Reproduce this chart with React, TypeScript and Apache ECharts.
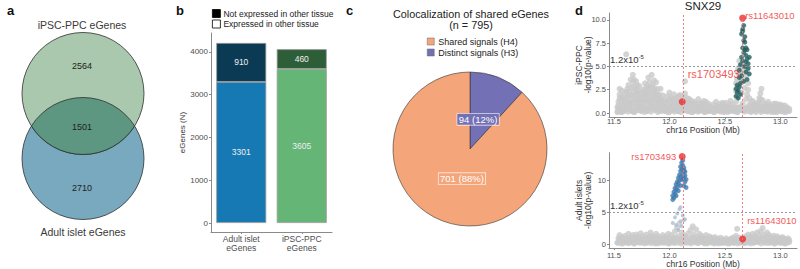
import React, { useEffect, useRef } from "react";
import * as echarts from "echarts";

// ---------- data ----------
const vennSetNames = ["iPSC-PPC eGenes", "Adult islet eGenes"];
const vennCounts = [2564, 1501, 2710]; // iPSC-only, shared, adult-only

const barCategories = ["Adult islet\neGenes", "iPSC-PPC\neGenes"];
const barSeriesNames = ["Not expressed in other tissue", "Expressed in other tissue"];
const expressedValues = [3301, 3605];
const notExpressedValues = [910, 460];
const barTicks = [0, 1000, 2000, 3000, 4000];

const pieTitle = ["Colocalization of shared eGenes", "(n = 795)"];
const pieNames = ["Distinct signals (H3)", "Shared signals (H4)"];
const pieValues = [94, 701];

const geneName = "SNX29";
const xTicks = [11.5, 12.0, 12.5, 13.0];
const ippcTicks = [0, 2.5, 5, 7.5, 10];
const isletTicks = [0, 5, 10];
const thresholdValue = 5;
const leadSnps = ["rs1703493", "rs11643010"];
const leadPos = [12.115, 12.66];
const ippcLead = [1.2, 10.2];
const isletLead = [13.8, 0.8];

const ippcGray: number[][] = [
  [11.53,0.1],[11.53,0.6],[11.54,1.2],[11.55,2.6],[11.56,0.3],[11.57,1.8],[11.58,0.9],[11.59,0.2],[11.6,1.5],[11.61,6.3],
  [11.61,2.3],[11.62,0.5],[11.63,3.0],[11.64,1.1],[11.65,3.6],[11.66,2.0],[11.66,0.2],[11.67,4.1],[11.68,2.8],[11.69,1.4],
  [11.7,3.4],[11.7,0.6],[11.71,2.2],[11.72,1.0],[11.73,2.9],[11.74,0.3],[11.75,1.7],[11.76,2.5],[11.77,0.8],[11.78,3.2],
  [11.79,1.3],[11.8,2.0],[11.8,0.2],[11.81,3.8],[11.82,2.7],[11.83,1.0],[11.84,4.1],[11.85,3.0],[11.86,1.8],[11.86,0.5],
  [11.87,2.4],[11.88,3.3],[11.89,1.2],[11.9,0.3],[11.9,2.0],[11.91,0.9],[11.92,1.5],[11.93,0.4],[11.94,1.9],[11.95,0.7],
  [11.57,0.1],[11.6,0.7],[11.63,1.9],[11.65,0.9],[11.68,0.1],[11.72,1.8],[11.75,0.4],[11.78,2.1],[11.82,0.6],[11.84,1.6],
  [11.88,0.8],[11.92,2.6],[11.55,1.6],[11.69,2.4],[11.74,1.2],[11.8,2.9],[11.86,2.6],[11.9,1.1],
  [11.54,0.8],[11.55,2.0],[11.56,1.3],[11.57,2.4],[11.58,1.6],[11.59,1.0],[11.6,2.1],[11.61,1.2],[11.62,1.7],[11.62,2.6],
  [11.63,0.9],[11.64,2.3],[11.65,1.5],[11.66,2.7],[11.66,1.2],[11.67,3.3],[11.67,1.8],[11.68,1.1],[11.68,3.6],[11.69,2.0],
  [11.7,1.3],[11.7,2.6],[11.71,1.6],[11.71,3.0],[11.72,2.4],[11.73,1.4],[11.73,0.9],[11.74,2.1],[11.75,1.1],[11.76,1.9],
  [11.77,1.5],[11.77,2.3],[11.78,1.2],[11.79,2.0],[11.79,2.7],[11.8,1.4],[11.81,1.8],[11.81,2.5],[11.82,1.3],[11.82,3.3],
  [11.83,2.2],[11.84,2.8],[11.84,0.9],[11.85,1.4],[11.85,2.2],[11.86,3.5],[11.87,1.2],[11.87,1.7],[11.88,2.0],[11.89,2.6],
  [11.89,1.6],[11.9,1.5],[11.91,1.9],[11.92,1.1],[11.93,1.3],[11.94,1.0],[11.95,1.4],
  [11.96,0.2],[11.97,1.1],[11.98,1.8],[11.99,0.5],[12.0,2.2],[12.01,0.9],[12.02,1.5],[12.03,0.3],[12.04,2.0],[12.05,1.2],
  [12.06,0.6],[12.07,1.7],[12.08,0.2],[12.09,1.0],[12.1,1.9],[12.11,0.5],[12.12,1.4],[12.13,0.3],[12.14,3.4],[12.14,2.1],
  [12.15,0.8],[12.16,1.6],[12.17,0.2],[12.18,1.1],[12.19,0.6],[12.2,1.3],[12.0,0.1],[12.05,0.4],[12.1,0.6],[12.17,1.2],
  [11.97,0.6],[11.98,1.3],[12.0,1.4],[12.01,1.7],[12.02,0.8],[12.03,1.2],[12.04,1.5],[12.06,1.4],[12.07,1.1],[12.08,1.6],
  [12.09,1.9],[12.11,1.2],[12.12,0.9],[12.13,1.7],[12.15,1.3],[12.16,1.0],[12.18,1.5],[12.19,0.9],
  [12.21,0.1],[12.22,0.7],[12.23,1.2],[12.24,0.3],[12.25,0.9],[12.26,1.5],[12.27,0.2],[12.28,0.6],[12.29,1.1],[12.3,0.4],
  [12.31,1.3],[12.32,0.1],[12.33,0.8],[12.34,0.4],[12.35,1.0],[12.36,0.2],[12.37,0.6],[12.38,0.3],[12.39,0.9],[12.4,0.1],
  [12.41,0.5],[12.42,1.2],[12.43,0.3],[12.44,0.7],[12.45,0.2],[12.46,1.0],[12.47,0.4],[12.48,0.8],[12.49,0.1],[12.5,0.6],
  [12.51,1.1],[12.52,0.3],[12.53,0.7],[12.54,0.2],[12.55,1.3],[12.56,0.5],[12.57,0.9],[12.58,0.2],
  [12.22,1.0],[12.25,0.5],[12.27,1.0],[12.3,0.8],[12.33,1.2],[12.36,0.7],[12.39,0.5],[12.42,0.8],[12.45,0.6],[12.48,1.1],
  [12.51,0.7],[12.54,0.9],[12.57,0.6],
  [12.59,0.4],[12.6,1.2],[12.6,2.4],[12.61,3.6],[12.61,0.1],[12.62,4.8],[12.62,1.8],[12.63,3.0],[12.63,5.6],[12.64,0.7],
  [12.64,4.2],[12.65,2.2],[12.66,3.4],[12.66,1.0],[12.67,5.0],[12.67,0.3],[12.68,2.7],[12.69,1.5],[12.69,4.0],[12.7,0.6],
  [12.7,2.0],[12.71,3.2],[12.72,0.9],[12.72,1.6],[12.6,3.2],[12.61,4.4],[12.62,3.0],[12.63,4.0],[12.64,5.0],[12.65,3.8],
  [12.65,5.2],[12.66,4.6],[12.68,4.4],[12.7,4.6],[12.71,2.5],[12.6,0.6],[12.62,0.3],
  [12.73,0.2],[12.74,0.8],[12.75,1.3],[12.76,0.4],[12.77,0.9],[12.78,0.1],[12.79,1.1],[12.8,0.5],[12.81,1.6],[12.82,2.1],
  [12.83,2.6],[12.83,0.3],[12.84,1.4],[12.85,0.7],[12.86,1.0],[12.87,0.2],[12.88,0.6],[12.89,1.2],[12.9,0.3],[12.91,0.8],
  [12.92,0.1],[12.93,0.5],[12.94,1.0],[12.95,0.3],[12.96,0.7],[12.97,0.1],[12.98,0.9],[12.99,0.4],[13.0,0.6],[13.01,0.2],
  [13.02,0.8],[13.03,0.3],[13.04,0.5],[13.05,0.1],[13.06,0.6],[13.07,0.3],[13.08,0.2],
  [12.74,1.2],[12.76,0.8],[12.78,0.6],[12.8,1.0],[12.82,0.9],[12.82,1.5],[12.84,0.6],[12.86,0.5],[12.88,0.9],[12.9,0.8],
  [12.92,0.6],[12.94,0.7],[12.96,1.0],[12.98,0.5],[13.0,0.9],[13.02,0.5],[13.04,0.8],[13.06,0.3],
  // lower floor of the cloud
  [11.535,0.2],[11.565,0.1],[11.595,0.3],[11.625,0.15],[11.655,0.25],[11.685,0.1],[11.715,0.3],[11.745,0.2],[11.775,0.1],
  [11.805,0.25],[11.835,0.15],[11.865,0.3],[11.895,0.1],[11.925,0.2],[11.955,0.25],[11.985,0.1],[12.015,0.3],[12.045,0.15],
  [12.075,0.2],[12.105,0.1],[12.135,0.3],[12.165,0.2],[12.195,0.1],[12.225,0.25],[12.255,0.15],[12.285,0.3],[12.315,0.1],
  [12.345,0.2],[12.375,0.25],[12.405,0.1],[12.435,0.3],[12.465,0.15],[12.495,0.2],[12.525,0.1],[12.555,0.25],[12.585,0.2],
  [12.615,0.1],[12.645,0.3],[12.675,0.15],[12.705,0.2],[12.735,0.1],[12.765,0.25],[12.795,0.3],[12.825,0.1],[12.855,0.2],
  [12.885,0.15],[12.915,0.3],[12.945,0.1],[12.975,0.25],[13.005,0.2],[13.035,0.1],[13.065,0.3],
  [11.55,0.55],[11.58,0.7],[11.61,0.5],[11.64,0.6],[11.67,0.75],[11.7,0.5],[11.73,0.65],[11.76,0.5],[11.79,0.6],[11.82,0.8],
  [11.85,0.55],[11.88,0.65],[11.91,0.5],[11.94,0.6],[11.97,0.5],[12.0,0.65],[12.03,0.5],[12.06,0.75],[12.09,0.6],[12.12,0.5],
  [12.15,0.65],[12.18,0.5],[12.21,0.7],[12.24,0.6],[12.27,0.5],[12.3,0.6],[12.33,0.5],[12.36,0.55],[12.39,0.45],[12.42,0.5],
  [12.45,0.4],[12.48,0.45],[12.51,0.4],[12.54,0.5],[12.57,0.45],[12.6,0.55],[12.63,0.5],[12.66,0.45],[12.69,0.5],[12.72,0.6],
  [12.75,0.55],[12.78,0.7],[12.81,0.5],[12.84,0.6],[12.87,0.55],[12.9,0.65],[12.93,0.5],[12.96,0.6],[12.99,0.45],[13.02,0.55],
  [13.05,0.5],[13.08,0.45]
];

const ippcTeal: number[][] = [
  [12.6,1.8],[12.6,2.6],[12.61,2.2],[12.61,3.0],[12.62,2.4],[12.62,1.6],[12.63,3.8],[12.63,4.6],[12.64,5.2],[12.64,2.0],
  [12.65,6.0],[12.65,4.0],[12.66,7.0],[12.66,5.6],[12.66,8.8],[12.67,6.5],[12.67,9.4],[12.67,3.4],[12.68,7.6],[12.68,5.0],
  [12.68,8.2],[12.69,6.2],[12.69,4.4],[12.69,7.0],[12.7,5.8],[12.7,3.6],[12.7,6.8],[12.71,5.3],[12.71,4.8],[12.72,6.0],
  [12.72,4.2],[12.66,9.0],[12.65,8.5],[12.68,6.8],[12.64,3.2],[12.67,7.8],[12.69,5.5],[12.63,2.8]
];

const isletGray: number[][] = [
  [11.53,0.2],[11.54,0.9],[11.55,1.4],[11.56,0.5],[11.57,1.1],[11.58,0.1],[11.59,0.7],[11.6,1.3],[11.61,0.3],[11.62,0.9],
  [11.63,1.6],[11.64,0.2],[11.65,1.0],[11.66,0.5],[11.67,1.4],[11.68,0.1],[11.69,0.8],[11.7,1.5],[11.71,0.4],[11.72,1.1],
  [11.73,0.2],[11.74,1.7],[11.75,0.7],[11.76,1.2],[11.77,0.3],[11.78,0.9],[11.79,1.5],[11.8,0.2],[11.81,1.0],[11.82,0.6],
  [11.83,1.8],[11.84,1.3],[11.85,0.4],[11.86,1.1],[11.87,0.1],[11.88,1.6],[11.89,0.7],[11.9,1.2],[11.91,0.3],[11.92,1.0],
  [11.93,0.5],[11.94,1.4],[11.95,0.2],[11.96,0.8],[11.97,1.2],[11.98,0.4],[11.99,1.6],[12.0,0.1],[12.01,0.9],[12.02,1.4],
  [12.03,0.3],[12.04,1.0],[12.05,2.0],[12.06,0.6],[12.07,2.6],[12.08,1.2],[12.09,3.2],[12.1,0.4],[12.11,1.8],[12.12,0.8],
  [12.13,1.4],[12.14,0.2],[12.15,1.1],[12.16,0.6],[12.17,1.7],[12.18,0.3],[12.19,2.2],[12.2,1.0],[12.21,2.8],[12.22,1.5],
  [12.23,0.4],[12.24,2.3],[12.25,1.1],[12.26,0.2],[12.27,1.6],[12.28,0.8],[12.29,1.3],[12.3,0.3],[12.31,1.0],[12.32,0.6],
  [12.33,1.4],[12.34,0.1],[12.35,0.8],[12.36,1.2],[12.37,0.4],[12.38,1.0],[12.39,0.2],[12.4,0.7],[12.41,1.1],[12.42,0.3],
  [12.43,0.8],[12.44,0.1],[12.45,0.6],[12.46,1.0],[12.47,0.3],[12.48,0.7],[12.49,0.2],[12.5,0.5],[12.51,0.9],[12.52,0.3],
  [12.53,0.6],[12.54,0.1],[12.55,0.8],[12.56,0.4],[12.57,1.0],[12.58,0.2],[12.59,0.7],[12.6,1.3],[12.61,2.4],[12.62,0.4],
  [12.63,1.0],[12.64,0.2],[12.65,0.6],[12.66,0.3],[12.67,0.9],[12.68,0.2],[12.69,1.2],[12.7,0.5],[12.71,1.5],[12.72,0.3],
  [12.73,1.1],[12.74,0.6],[12.75,1.6],[12.76,0.2],[12.77,1.2],[12.78,0.7],[12.79,1.8],[12.8,0.4],[12.81,1.3],[12.82,2.0],
  [12.83,0.9],[12.84,2.5],[12.85,1.5],[12.86,0.3],[12.87,1.1],[12.88,1.8],[12.89,0.6],[12.9,1.4],[12.91,0.2],[12.92,1.0],
  [12.93,0.5],[12.94,1.3],[12.95,0.1],[12.96,0.8],[12.97,1.2],[12.98,0.4],[12.99,1.0],[13.0,0.2],[13.01,0.7],[13.02,1.1],
  [13.03,0.3],[13.04,0.8],[13.05,0.1],[13.06,0.6],[13.07,0.9],[13.08,0.3],
  // lower floor of the cloud
  [11.535,0.2],[11.565,0.1],[11.595,0.3],[11.625,0.15],[11.655,0.25],[11.685,0.1],[11.715,0.3],[11.745,0.2],[11.775,0.1],
  [11.805,0.25],[11.835,0.15],[11.865,0.3],[11.895,0.1],[11.925,0.2],[11.955,0.25],[11.985,0.1],[12.015,0.3],[12.045,0.15],
  [12.075,0.2],[12.105,0.1],[12.135,0.3],[12.165,0.2],[12.195,0.1],[12.225,0.25],[12.255,0.15],[12.285,0.3],[12.315,0.1],
  [12.345,0.2],[12.375,0.25],[12.405,0.1],[12.435,0.3],[12.465,0.15],[12.495,0.2],[12.525,0.1],[12.555,0.25],[12.585,0.2],
  [12.615,0.1],[12.645,0.3],[12.675,0.15],[12.705,0.2],[12.735,0.1],[12.765,0.25],[12.795,0.3],[12.825,0.1],[12.855,0.2],
  [12.885,0.15],[12.915,0.3],[12.945,0.1],[12.975,0.25],[13.005,0.2],[13.035,0.1],[13.065,0.3],
  [11.55,0.7],[11.58,0.9],[11.61,0.6],[11.64,0.8],[11.67,1.0],[11.7,0.7],[11.73,0.9],[11.76,0.6],[11.79,0.8],[11.82,1.1],
  [11.85,0.7],[11.88,0.9],[11.91,0.6],[11.94,0.8],[11.97,0.7],[12.0,0.9],[12.03,0.6],[12.06,1.0],[12.09,0.8],[12.12,0.6],
  [12.15,0.9],[12.18,0.7],[12.21,1.0],[12.24,0.8],[12.27,0.6],[12.3,0.9],[12.33,0.7],[12.36,0.8],[12.39,0.6],[12.42,0.7],
  [12.45,0.5],[12.48,0.6],[12.51,0.5],[12.54,0.6],[12.57,0.7],[12.6,0.8],[12.63,0.6],[12.66,0.5],[12.69,0.7],[12.72,0.9],
  [12.75,0.8],[12.78,1.0],[12.81,0.7],[12.84,0.9],[12.87,0.8],[12.9,1.0],[12.93,0.7],[12.96,0.9],[12.99,0.6],[13.02,0.8],
  [13.05,0.7],[13.08,0.6]
];

const isletLightBlue: number[][] = [
  [12.05,4.2],[12.06,3.0],[12.07,4.8],[12.08,2.2],[12.09,5.5],[12.1,3.6],[12.1,5.8],[12.11,2.8],[12.12,4.5],[12.13,3.8],
  [12.14,3.9],[12.03,3.3]
];

const isletBlue: number[][] = [
  [12.03,7.0],[12.03,7.6],[12.04,8.2],[12.04,7.3],[12.05,8.8],[12.05,7.9],[12.06,9.4],[12.06,8.5],[12.07,9.8],[12.07,9.0],
  [12.08,10.4],[12.08,9.5],[12.09,10.9],[12.09,10.0],[12.1,11.5],[12.1,10.6],[12.1,12.2],[12.11,11.8],[12.11,12.8],[12.11,10.2],
  [12.12,13.2],[12.12,11.0],[12.12,12.4],[12.13,11.6],[12.13,10.5],[12.13,12.0],[12.14,10.8],[12.14,9.8],[12.14,11.4],[12.15,10.2],
  [12.15,8.9],[12.13,9.2],[12.06,7.6],[12.08,8.4],[12.1,9.2],[12.12,10.3]
];

// ---------- styles ----------
const FONT = "Liberation Sans, Arial, Helvetica, sans-serif";
const AX = "#8a8a8a";
const LBL = "#4d4d4d";
const RED = "#ee2b2b";

echarts.graphic.registerShape(
  "vennLens",
  echarts.graphic.extendPath("M31.4 126 A61 61 0 0 1 134.6 126 A61 61 0 0 1 31.4 126 Z", {})
);

function buildOption(): any {
  const thresholdLabel = {
    show: true,
    position: "insideStartTop",
    distance: [1, 1],
    formatter: "{a|1.2x10}{s|-5}",
    rich: {
      a: { fontSize: 9.5, color: "#333", fontFamily: FONT, lineHeight: 11 },
      s: { fontSize: 6, color: "#333", fontFamily: FONT, verticalAlign: "top", lineHeight: 11 },
    },
  };
  const thresholdLine = {
    silent: true,
    symbol: ["none", "none"],
    animation: false,
    data: [{ yAxis: thresholdValue, lineStyle: { color: "#8c8c8c", type: [2, 2], width: 0.9 }, label: thresholdLabel }],
  };
  const redLines = {
    silent: true,
    symbol: ["none", "none"],
    animation: false,
    label: { show: false },
    lineStyle: { color: "#f27070", type: [2, 2], width: 0.9 },
    data: leadPos.map((p) => ({ xAxis: p })),
  };

  const scatterX = (grid: number, margin: number, gap: number) => ({
    type: "value",
    gridIndex: grid,
    min: 11.455,
    max: 13.15,
    axisLine: { onZero: false, lineStyle: { color: AX, width: 1 } },
    axisTick: { show: true, length: 2, customValues: xTicks, lineStyle: { color: AX } },
    axisLabel: {
      customValues: xTicks,
      formatter: (v: number) => v.toFixed(1),
      fontSize: 7.5,
      color: LBL,
      margin,
      fontFamily: FONT,
    },
    splitLine: { show: false },
    name: "chr16 Position (Mb)",
    nameLocation: "middle",
    nameGap: gap,
    nameMoveOverlap: false,
    nameTextStyle: { fontSize: 8.5, color: "#333", fontFamily: FONT },
  });

  return {
    animation: false,
    backgroundColor: "#fff",
    textStyle: { fontFamily: FONT },
    grid: [
      { left: 211, top: 33, width: 121, height: 199, containLabel: false, outerBoundsMode: "none" },
      { left: 609, top: 13, width: 188, height: 104, containLabel: false, outerBoundsMode: "none" },
      { left: 609, top: 152.7, width: 188, height: 95.3, containLabel: false, outerBoundsMode: "none" },
    ],
    legend: [
      {
        orient: "vertical",
        left: 212,
        top: 9,
        padding: 0,
        itemWidth: 8,
        itemHeight: 8,
        itemGap: 1.5,
        selectedMode: false,
        textStyle: { fontSize: 8.5, color: "#222", fontFamily: FONT, padding: [0, 0, 0, -2] },
        data: [
          { name: barSeriesNames[0], icon: "rect", itemStyle: { color: "#000", borderColor: "#000", borderWidth: 0.8 } },
          { name: barSeriesNames[1], icon: "rect", itemStyle: { color: "#fff", borderColor: "#000", borderWidth: 0.8 } },
        ],
      },
      {
        orient: "vertical",
        left: 427,
        top: 37,
        padding: 0,
        itemWidth: 7,
        itemHeight: 7,
        itemGap: 2,
        selectedMode: false,
        textStyle: { fontSize: 9, color: "#222", fontFamily: FONT, padding: [0, 0, 0, -1] },
        data: [
          { name: pieNames[1], icon: "rect", itemStyle: { borderColor: "#666", borderWidth: 0.5 } },
          { name: pieNames[0], icon: "rect", itemStyle: { borderColor: "#666", borderWidth: 0.5 } },
        ],
      },
    ],
    xAxis: [
      {
        type: "category",
        gridIndex: 0,
        data: barCategories,
        boundaryGap: true,
        axisLine: { onZero: false, lineStyle: { color: AX, width: 1 } },
        axisTick: { show: true, length: 2, alignWithLabel: true, lineStyle: { color: AX } },
        axisLabel: {
          fontSize: 8.5,
          lineHeight: 9,
          color: LBL,
          margin: 2,
          fontFamily: FONT,
          interval: 0,
        },
        splitLine: { show: false },
      },
      scatterX(1, 0.5, 8),
      scatterX(2, 3, 11),
    ],
    yAxis: [
      {
        type: "value",
        gridIndex: 0,
        min: -210,
        max: 4444,
        axisLine: { show: true, onZero: false, lineStyle: { color: AX, width: 1 } },
        axisTick: { show: true, length: 2, customValues: barTicks, lineStyle: { color: AX } },
        axisLabel: {
          customValues: barTicks,
          formatter: (v: number) => String(v),
          fontSize: 8,
          color: LBL,
          margin: 3,
          fontFamily: FONT,
        },
        splitLine: { show: false },
        name: "eGenes (N)",
        nameLocation: "middle",
        nameGap: 25,
        nameMoveOverlap: false,
        nameTextStyle: { fontSize: 8, color: "#333", fontFamily: FONT },
      },
      {
        type: "value",
        gridIndex: 1,
        min: -0.43,
        max: 10.75,
        axisLine: { show: true, onZero: false, lineStyle: { color: AX, width: 1 } },
        axisTick: { show: true, length: 2, customValues: ippcTicks, lineStyle: { color: AX } },
        axisLabel: {
          customValues: ippcTicks,
          formatter: (v: number) => v.toFixed(1),
          fontSize: 7.5,
          color: LBL,
          margin: 3,
          fontFamily: FONT,
        },
        splitLine: { show: false },
        name: "iPSC-PPC\n-log10(p-value)",
        nameLocation: "middle",
        nameGap: 16,
        nameMoveOverlap: false,
        nameTextStyle: { fontSize: 8.5, color: "#333", fontFamily: FONT, lineHeight: 9.5 },
      },
      {
        type: "value",
        gridIndex: 2,
        min: -0.63,
        max: 14.4,
        axisLine: { show: true, onZero: false, lineStyle: { color: AX, width: 1 } },
        axisTick: { show: true, length: 2, customValues: isletTicks, lineStyle: { color: AX } },
        axisLabel: { customValues: isletTicks, fontSize: 7.5, color: LBL, margin: 3, fontFamily: FONT },
        splitLine: { show: false },
        name: "Adult islets\n-log10(p-value)",
        nameLocation: "middle",
        nameGap: 16,
        nameMoveOverlap: false,
        nameTextStyle: { fontSize: 8.5, color: "#333", fontFamily: FONT, lineHeight: 9.5 },
      },
    ],
    series: [
      // ---- panel b ----
      {
        name: barSeriesNames[1],
        type: "bar",
        xAxisIndex: 0,
        yAxisIndex: 0,
        stack: "eg",
        barWidth: 50,
        itemStyle: { color: "#fff", borderColor: "#000", borderWidth: 0.8 },
        label: { show: true, position: "inside", color: "#eeeeee", fontSize: 8.5, fontFamily: FONT },
        data: expressedValues.map((v, i) => ({
          value: v,
          itemStyle: { color: ["#1679b3", "#65b576"][i], borderColor: "#9a9a9a", borderWidth: 0.8 },
        })),
      },
      {
        name: barSeriesNames[0],
        type: "bar",
        xAxisIndex: 0,
        yAxisIndex: 0,
        stack: "eg",
        barWidth: 50,
        itemStyle: { color: "#000", borderColor: "#000", borderWidth: 0.8 },
        label: { show: true, position: "inside", color: "#eeeeee", fontSize: 8.5, fontFamily: FONT },
        data: notExpressedValues.map((v, i) => ({
          value: v,
          itemStyle: { color: ["#0b3a55", "#2e5e38"][i], borderColor: "#9a9a9a", borderWidth: 0.8 },
        })),
      },
      // ---- panel c ----
      {
        type: "pie",
        center: [470, 149],
        radius: 77,
        startAngle: 90,
        clockwise: true,
        silent: true,
        itemStyle: { borderColor: "#333", borderWidth: 0.6 },
        label: {
          show: true,
          position: "inside",
          color: "#ffffff",
          fontSize: 9.5,
          fontFamily: FONT,
          borderColor: "#ffffff",
          borderWidth: 0.6,
          padding: [1, 1.5, 0, 1.5],
          formatter: (p: any) => `${p.value} (${Math.round(p.percent)}%)`,
        },
        labelLine: { show: false },
        data: [
          {
            name: pieNames[0],
            value: pieValues[0],
            itemStyle: { color: "#7470b5" },
            label: { backgroundColor: "#7470b5", offset: [-7, 9] },
          },
          {
            name: pieNames[1],
            value: pieValues[1],
            itemStyle: { color: "#f5a57a" },
            label: { backgroundColor: "#f5a57a", offset: [7, -9] },
          },
        ],
      },
      // ---- panel d, top ----
      {
        type: "scatter",
        xAxisIndex: 1,
        yAxisIndex: 1,
        symbolSize: 6,
        silent: true,
        itemStyle: { color: "#c9c9c9" },
        data: ippcGray,
      },
      {
        type: "scatter",
        xAxisIndex: 1,
        yAxisIndex: 1,
        symbolSize: 4.5,
        silent: true,
        itemStyle: { color: "#1f5d5c", borderColor: "#3e7b78", borderWidth: 0.4 },
        data: ippcTeal,
        markLine: redLines,
      },
      {
        type: "scatter",
        xAxisIndex: 1,
        yAxisIndex: 1,
        data: [],
        silent: true,
        markLine: thresholdLine,
      },
      {
        type: "scatter",
        xAxisIndex: 1,
        yAxisIndex: 1,
        symbolSize: 7,
        silent: true,
        itemStyle: { color: RED },
        label: { show: true, color: RED, fontSize: 9.5, fontFamily: FONT, formatter: "{b}" },
        data: [
          { name: leadSnps[0], value: [leadPos[0], ippcLead[0]], label: { position: "right", distance: 2, offset: [0, -28], fontSize: 11 } },
          { name: leadSnps[1], value: [leadPos[1], ippcLead[1]], label: { position: "right", distance: 0, offset: [-1, -3] } },
        ],
      },
      // ---- panel d, bottom ----
      {
        type: "scatter",
        xAxisIndex: 2,
        yAxisIndex: 2,
        symbolSize: 6,
        silent: true,
        itemStyle: { color: "#c9c9c9" },
        data: isletGray,
      },
      {
        type: "scatter",
        xAxisIndex: 2,
        yAxisIndex: 2,
        symbolSize: 4,
        silent: true,
        itemStyle: { color: "#a9bfd2" },
        data: isletLightBlue,
      },
      {
        type: "scatter",
        xAxisIndex: 2,
        yAxisIndex: 2,
        symbolSize: 4.5,
        silent: true,
        itemStyle: { color: "#3d78ad", borderColor: "#5d8fbd", borderWidth: 0.4 },
        data: isletBlue,
        markLine: redLines,
      },
      {
        type: "scatter",
        xAxisIndex: 2,
        yAxisIndex: 2,
        data: [],
        silent: true,
        markLine: thresholdLine,
      },
      {
        type: "scatter",
        xAxisIndex: 2,
        yAxisIndex: 2,
        symbolSize: 7,
        silent: true,
        itemStyle: { color: RED },
        label: { show: true, color: RED, fontSize: 9.5, fontFamily: FONT, formatter: "{b}" },
        data: [
          { name: leadSnps[0], value: [leadPos[0], isletLead[0]], label: { position: "left", distance: 2.5 } },
          { name: leadSnps[1], value: [leadPos[1], isletLead[1]], label: { position: "right", distance: 1, offset: [0, -18] } },
        ],
      },
    ],
    graphic: [
      // panel letters
      { type: "text", left: 7, top: 4, style: { text: "a", font: `bold 13px ${FONT}`, fill: "#111" } },
      { type: "text", left: 176, top: 4, style: { text: "b", font: `bold 13px ${FONT}`, fill: "#111" } },
      { type: "text", left: 346, top: 4, style: { text: "c", font: `bold 13px ${FONT}`, fill: "#111" } },
      { type: "text", left: 575, top: 4, style: { text: "d", font: `bold 13px ${FONT}`, fill: "#111" } },
      // venn
      { type: "circle", shape: { cx: 83, cy: 158.5, r: 61 }, style: { fill: "#79a9be", stroke: "#2f2f2f", lineWidth: 0.8 } },
      { type: "circle", shape: { cx: 83, cy: 93.5, r: 61 }, style: { fill: "#a9c8ad", stroke: "#2f2f2f", lineWidth: 0.8 } },
      { type: "vennLens", x: 0, y: 0, scaleX: 1, scaleY: 1, style: { fill: "#5d9782", stroke: "#2f2f2f", lineWidth: 0.8 } },
      { type: "text", x: 82, y: 25, style: { text: vennSetNames[0], font: `10.5px ${FONT}`, fill: "#3a3a3a", align: "center", verticalAlign: "middle" } },
      { type: "text", x: 83, y: 232, style: { text: vennSetNames[1], font: `10.5px ${FONT}`, fill: "#3a3a3a", align: "center", verticalAlign: "middle" } },
      { type: "text", x: 82, y: 66, style: { text: String(vennCounts[0]), font: `9px ${FONT}`, fill: "#222", align: "center", verticalAlign: "middle" } },
      { type: "text", x: 82, y: 127, style: { text: String(vennCounts[1]), font: `9px ${FONT}`, fill: "#222", align: "center", verticalAlign: "middle" } },
      { type: "text", x: 82, y: 188, style: { text: String(vennCounts[2]), font: `9px ${FONT}`, fill: "#222", align: "center", verticalAlign: "middle" } },
      // pie title
      { type: "text", x: 471, y: 14, style: { text: pieTitle[0], font: `10.8px ${FONT}`, fill: "#222", align: "center", verticalAlign: "middle" } },
      { type: "text", x: 471, y: 24.5, style: { text: pieTitle[1], font: `10.8px ${FONT}`, fill: "#222", align: "center", verticalAlign: "middle" } },
      // gene title
      { type: "text", x: 703, y: 6, style: { text: geneName, font: `11.5px ${FONT}`, fill: "#222", align: "center", verticalAlign: "middle" } },
    ],
  };
}

export default function App() {
  const ref = useRef<HTMLDivElement>(null);
  useEffect(() => {
    if (!ref.current) return;
    const chart = echarts.init(ref.current, undefined, { renderer: "svg" });
    chart.setOption(buildOption());
    return () => chart.dispose();
  }, []);
  return (
    <div
      ref={ref}
      style={{ position: "fixed", left: 0, top: 0, width: 800, height: 269, background: "#fff" }}
    />
  );
}
